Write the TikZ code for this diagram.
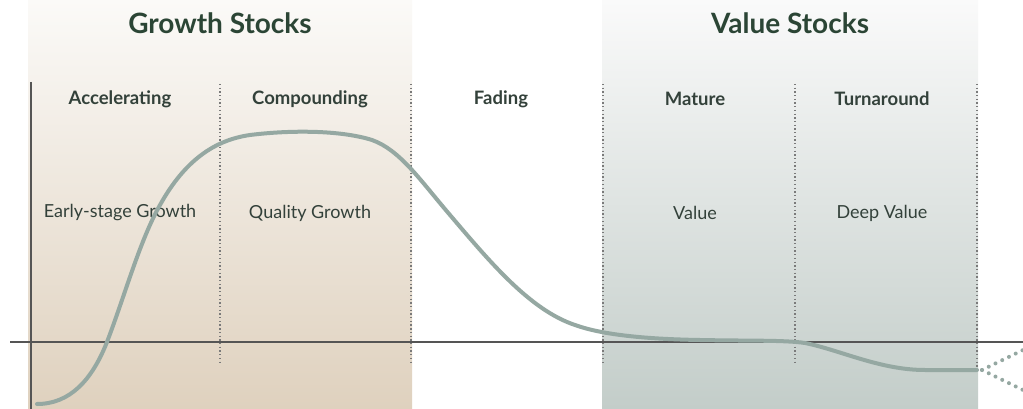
\documentclass[tikz,border=0pt]{standalone}
\usepackage{fontspec}
\setmainfont{Lato}
\begin{document}
\begin{tikzpicture}[x=1pt,y=-1pt,
  heading/.style={font=\bfseries\fontsize{28}{32}\selectfont, text=headgreen},
  phase/.style={font=\bfseries\fontsize{18.5}{22}\selectfont, text=textdark},
  kind/.style={font=\fontsize{18}{22}\selectfont, text=textdark},
  divider/.style={draw=divgray, line width=1.3pt, dash pattern=on 1.3pt off 2.4pt},
  axis/.style={draw=axisgray, line width=1.6pt},
  cycle/.style={draw=curvegray, line width=4pt, line cap=round, line join=round},
  tail/.style={draw=curvegray, line width=4pt, line cap=round, dash pattern=on 0pt off 7.5pt}]
\definecolor{headgreen}{HTML}{2B4535}
\definecolor{textdark}{HTML}{33413A}
\definecolor{divgray}{HTML}{7A7A7A}
\definecolor{axisgray}{HTML}{555555}
\definecolor{curvegray}{HTML}{95A8A2}
\definecolor{tanlight}{HTML}{FBFAF8}
\definecolor{tandark}{HTML}{DFD1BE}
\definecolor{sagelight}{HTML}{FAFAFA}
\definecolor{sagedark}{HTML}{C3CDC9}
\useasboundingbox (0,0) rectangle (1023,409);
\fill[white] (0,0) rectangle (1023,409);
% background bands for the two stock groups
\shade[top color=tanlight, bottom color=tandark] (28,0) rectangle (412,409);
\shade[top color=sagelight, bottom color=sagedark] (602,0) rectangle (978,409);
% headings
\node[heading] (growth) at (220,23) {Growth Stocks};
\node[heading] (value) at (790,23) {Value Stocks};
% phase dividers
\coordinate (d1t) at (220,84); \coordinate (d1b) at (220,363);
\coordinate (d2t) at (411,84); \coordinate (d2b) at (411,363);
\coordinate (d3t) at (603,84); \coordinate (d3b) at (603,363);
\coordinate (d4t) at (795,84); \coordinate (d4b) at (795,363);
\coordinate (d5t) at (977,84); \coordinate (d5b) at (977,370);
\foreach \i in {1,...,5} \draw[divider] (d\i t) -- (d\i b);
% phase names
\node[phase] (acc) at (120,99) {Accelerating};
\node[phase] (comp) at (310,99) {Compounding};
\node[phase] (fade) at (501,99) {Fading};
\node[phase] (mat) at (695,99) {Mature};
\node[phase] (turn) at (882,99) {Turnaround};
% stock styles
\node[kind] (early) at (120,213) {Early-stage Growth};
\node[kind] (quality) at (310,213) {Quality Growth};
\node[kind] (val) at (695,213) {Value};
\node[kind] (deep) at (882,213) {Deep Value};
% axes
\coordinate (yt) at (31,82); \coordinate (yb) at (31,409);
\coordinate (xl) at (10,342); \coordinate (xr) at (1023,342);
\draw[axis] (yt) -- (yb);
\draw[axis] (xl) -- (xr);
% life-cycle curve
\draw[cycle] (37,404)
  .. controls (70,404) and (92,380) .. (107,342)
  .. controls (125,295) and (140,240) .. (160,205)
  .. controls (185,160) and (215,140) .. (250,135)
  .. controls (290,130) and (340,130) .. (372,140)
  .. controls (400,150) and (420,180) .. (450,215)
  .. controls (490,262) and (530,310) .. (575,325)
  .. controls (600,334) and (640,339) .. (700,340)
  .. controls (750,341) and (785,340) .. (805,343)
  .. controls (840,350) and (880,370) .. (925,370)
  -- (977,370);
% uncertain future
\coordinate (fork) at (982,370);
\coordinate (up) at (1023,350);
\coordinate (down) at (1023,390);
\draw[tail] (fork) -- (up);
\draw[tail] (fork) -- (down);
\end{tikzpicture}
\end{document}
